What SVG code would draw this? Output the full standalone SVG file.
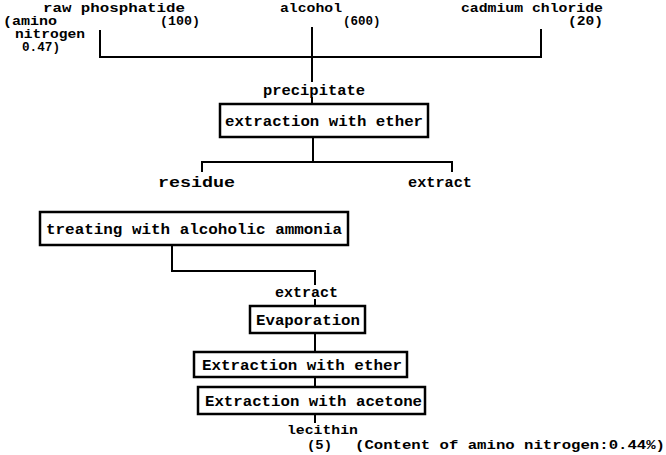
<svg xmlns="http://www.w3.org/2000/svg" width="666" height="455" viewBox="0 0 666 455">
<style>
text{font-family:"Liberation Mono","Courier New",monospace;font-weight:bold;font-size:14px;fill:#000}
.s{font-size:12.5px}
.box{fill:none;stroke:#000;stroke-width:2.5}
.ln{fill:none;stroke:#000;stroke-width:2}
</style>
<rect width="666" height="455" fill="#fff"/>
<g id="n-raw">
<text class="s" x="43" y="12" textLength="142" lengthAdjust="spacingAndGlyphs">raw phosphatide</text>
<text class="s" x="160" y="25" textLength="40" lengthAdjust="spacingAndGlyphs">(100)</text>
<text class="s" x="3" y="25" textLength="54" lengthAdjust="spacingAndGlyphs">(amino</text>
<text class="s" x="15" y="38" textLength="70" lengthAdjust="spacingAndGlyphs">nitrogen</text>
<text class="s" x="22" y="51" textLength="38" lengthAdjust="spacingAndGlyphs">0.47)</text>
</g>
<g id="n-alcohol">
<text class="s" x="280" y="12" textLength="62" lengthAdjust="spacingAndGlyphs">alcohol</text>
<text class="s" x="343" y="25">(600)</text>
</g>
<g id="n-cadmium">
<text class="s" x="461" y="12" textLength="142" lengthAdjust="spacingAndGlyphs">cadmium chloride</text>
<text class="s" x="568" y="25" textLength="35" lengthAdjust="spacingAndGlyphs">(20)</text>
</g>
<g id="n-precipitate"><text x="263" y="95" textLength="102" lengthAdjust="spacingAndGlyphs">precipitate</text></g>
<g id="n-ext1"><rect class="box" x="220" y="104" width="208" height="33"/><text x="225" y="126" textLength="198" lengthAdjust="spacingAndGlyphs">extraction with ether</text></g>
<g id="n-residue"><text x="158" y="187" textLength="77" lengthAdjust="spacingAndGlyphs">residue</text></g>
<g id="n-extract1"><text x="408" y="187" textLength="64" lengthAdjust="spacingAndGlyphs">extract</text></g>
<g id="n-treat"><rect class="box" x="40" y="212" width="308" height="33"/><text x="46" y="234" textLength="296" lengthAdjust="spacingAndGlyphs">treating with alcoholic ammonia</text></g>
<g id="n-extract2"><text x="275" y="297" textLength="63" lengthAdjust="spacingAndGlyphs">extract</text></g>
<g id="n-evap"><rect class="box" x="250" y="306" width="115" height="27"/><text x="256" y="325" textLength="104" lengthAdjust="spacingAndGlyphs">Evaporation</text></g>
<g id="n-ext2"><rect class="box" x="194" y="352" width="213" height="25"/><text x="202" y="370" textLength="200" lengthAdjust="spacingAndGlyphs">Extraction with ether</text></g>
<g id="n-acetone"><rect class="box" x="198" y="387" width="227" height="27"/><text x="205" y="406" textLength="217" lengthAdjust="spacingAndGlyphs">Extraction with acetone</text></g>
<g id="n-lecithin">
<text class="s" x="287" y="434" textLength="71" lengthAdjust="spacingAndGlyphs">lecithin</text>
<text class="s" x="307" y="449" textLength="25" lengthAdjust="spacingAndGlyphs">(5)</text>
<text class="s" x="355" y="449" textLength="310" lengthAdjust="spacingAndGlyphs">(Content of amino nitrogen:0.44%)</text>
</g>
<g id="connectors">
<path class="ln" d="M100 30V57H541V29"/>
<path class="ln" d="M312 27V82"/>
<path class="ln" d="M312 97V104"/>
<path class="ln" d="M313 137V162M202 172V162H452V172"/>
<path class="ln" d="M172 245V271H315V285"/>
<path class="ln" d="M315 299V306"/>
<path class="ln" d="M315 333V352"/>
<path class="ln" d="M315 377V387"/>
<path class="ln" d="M315 414V423"/>
</g>
</svg>
